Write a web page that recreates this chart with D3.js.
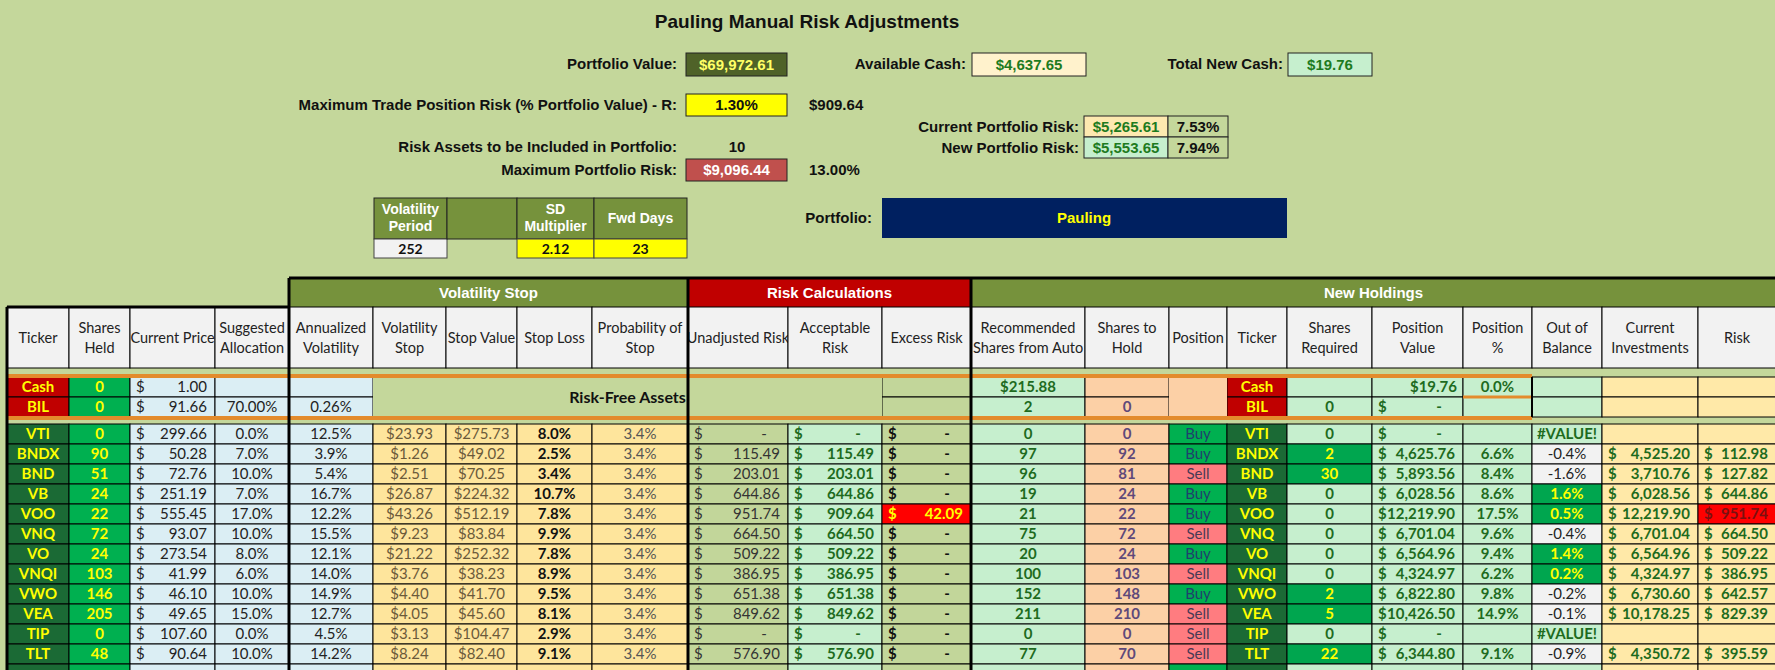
<!DOCTYPE html>
<html>
<head>
<meta charset="utf-8">
<script src="https://cdn.jsdelivr.net/npm/d3@7"></script>
<style>
  body { margin: 0; background: #c4d79b; }
  svg { display: block; }
</style>
</head>
<body>
<svg id="sheet" width="1775" height="670"></svg>
<script>
// ---- data ----
const tickers = ['VTI', 'BNDX', 'BND', 'VB', 'VOO', 'VNQ', 'VO', 'VNQI', 'VWO', 'VEA', 'TIP', 'TLT'];
const sharesHeld = [0, 90, 51, 24, 22, 72, 24, 103, 146, 205, 0, 48];
const prices = [299.66, 50.28, 72.76, 251.19, 555.45, 93.07, 273.54, 41.99, 46.10, 49.65, 107.60, 90.64];
const allocation = [0.0, 7.0, 10.0, 7.0, 17.0, 10.0, 8.0, 6.0, 10.0, 15.0, 0.0, 10.0];
const annVol = [12.5, 3.9, 5.4, 16.7, 12.2, 15.5, 12.1, 14.0, 14.9, 12.7, 4.5, 14.2];
const volStop = [23.93, 1.26, 2.51, 26.87, 43.26, 9.23, 21.22, 3.76, 4.40, 4.05, 3.13, 8.24];
const stopValue = [275.73, 49.02, 70.25, 224.32, 512.19, 83.84, 252.32, 38.23, 41.70, 45.60, 104.47, 82.40];
const stopLoss = [8.0, 2.5, 3.4, 10.7, 7.8, 9.9, 7.8, 8.9, 9.5, 8.1, 2.9, 9.1];
const probStop = [3.4, 3.4, 3.4, 3.4, 3.4, 3.4, 3.4, 3.4, 3.4, 3.4, 3.4, 3.4];
const unadjRisk = [0, 115.49, 203.01, 644.86, 951.74, 664.50, 509.22, 386.95, 651.38, 849.62, 0, 576.90];
const acceptRisk = [0, 115.49, 203.01, 644.86, 909.64, 664.50, 509.22, 386.95, 651.38, 849.62, 0, 576.90];
const excessRisk = [0, 0, 0, 0, 42.09, 0, 0, 0, 0, 0, 0, 0];
const recommended = [0, 97, 96, 19, 21, 75, 20, 100, 152, 211, 0, 77];
const sharesToHold = [0, 92, 81, 24, 22, 72, 24, 103, 148, 210, 0, 70];
const positions = ['Buy', 'Buy', 'Sell', 'Buy', 'Buy', 'Sell', 'Buy', 'Sell', 'Buy', 'Sell', 'Sell', 'Sell'];
const sharesRequired = [0, 2, 30, 0, 0, 0, 0, 0, 2, 5, 0, 22];
const positionValue = [0, 4625.76, 5893.56, 6028.56, 12219.90, 6701.04, 6564.96, 4324.97, 6822.80, 10426.50, 0, 6344.80];
const positionPct = [null, 6.6, 8.4, 8.6, 17.5, 9.6, 9.4, 6.2, 9.8, 14.9, null, 9.1];
const outOfBalance = [null, -0.4, -1.6, 1.6, 0.5, -0.4, 1.4, 0.2, -0.2, -0.1, null, -0.9];
const currentInv = [null, 4525.20, 3710.76, 6028.56, 12219.90, 6701.04, 6564.96, 4324.97, 6730.60, 10178.25, null, 4350.72];
const riskValues = [null, 112.98, 127.82, 644.86, 951.74, 664.50, 509.22, 386.95, 642.57, 829.39, null, 395.59];

const headers = ['Ticker', 'Shares|Held', 'Current Price', 'Suggested|Allocation', 'Annualized|Volatility',
  'Volatility|Stop', 'Stop Value', 'Stop Loss', 'Probability of|Stop', 'Unadjusted Risk', 'Acceptable|Risk',
  'Excess Risk', 'Recommended|Shares from Auto', 'Shares to|Hold', 'Position', 'Ticker', 'Shares|Required',
  'Position|Value', 'Position|%', 'Out of|Balance', 'Current|Investments', 'Risk'];
const groups = [
  { name: 'Volatility Stop', from: 4, to: 9, fill: '#76923c' },
  { name: 'Risk Calculations', from: 9, to: 12, fill: '#c00000' },
  { name: 'New Holdings', from: 12, to: 22, fill: '#76923c' }
];

// ---- layout ----
const edges = [7, 69, 130, 215, 289, 373, 446, 517, 592, 688, 788, 882, 971, 1085, 1169, 1227, 1287, 1372, 1463, 1532, 1602, 1698, 1776];
const X0 = i => edges[i], X1 = i => edges[i + 1];
const rowY = d3.scaleLinear().domain([0, 1]).range([424, 444]);
const RH = 20;

const C = {
  tick: '#1b6a35', red: '#c00000', held: '#00b050', blue: '#dbeef4', orange: '#fee59c', olive: '#c4d79b',
  lgreen: '#c6efce', peach: '#fcd0a6', lyellow: '#ffe9a8', grey: '#f2f2f2', green: '#00a64f',
  dgreen: '#1e6b1e', ytext: '#ffff00', line: '#e38b2c'
};
const TF = 'Lato, "Open Sans", sans-serif';
const AF = '"Liberation Sans", Arial, sans-serif';

const svg = d3.select('#sheet').attr('viewBox', '0 0 1775 670');
svg.append('rect').attr('width', 1775).attr('height', 670).attr('fill', C.olive);
const g = svg.append('g');

function text(x, y, s, o = {}) {
  return g.append('text').attr('x', x).attr('y', y).attr('dy', '0.35em')
    .attr('text-anchor', o.anchor || 'middle')
    .attr('font-family', o.font || TF).attr('font-size', o.size || 15)
    .attr('font-weight', o.bold ? 'bold' : 'normal')
    .attr('fill', o.color || '#222').text(s);
}
function box(x0, y0, x1, y1, fill, stroke = '#000', sw = 1) {
  g.append('rect').attr('x', x0).attr('y', y0).attr('width', x1 - x0).attr('height', y1 - y0)
    .attr('fill', fill).attr('stroke', stroke).attr('stroke-width', sw);
}
const f2 = d3.format(',.2f');
function acct(c, y0, v, o) {
  const cy = y0 + RH / 2;
  text(X0(c) + 6, cy, '$', Object.assign({}, o, { anchor: 'start' }));
  if (!v) text(X1(c) - 24, cy, '-', o);
  else text(X1(c) - 8, cy, f2(v), Object.assign({}, o, { anchor: 'end' }));
}
function cell(c, y0, fill, s, o = {}) {
  box(X0(c), y0, X1(c), y0 + RH, fill);
  if (s !== null && s !== undefined && s !== '') text((X0(c) + X1(c)) / 2, y0 + RH / 2, s, o);
}

// ---- top block ----
text(807, 21, 'Pauling Manual Risk Adjustments', { font: AF, size: 19, bold: true, color: '#111' });
const lab = (x, y, s) => text(x, y, s, { font: AF, size: 15, bold: true, anchor: 'end', color: '#111' });
const val = (x0, y0, x1, y1, fill, s, col) => {
  box(x0, y0, x1, y1, fill, '#222');
  text((x0 + x1) / 2, (y0 + y1) / 2, s, { font: AF, size: 15, bold: true, color: col });
};
lab(677, 64, 'Portfolio Value:'); val(686, 53, 787, 76, '#4f6228', '$69,972.61', '#ffff66');
lab(966, 64, 'Available Cash:'); val(972, 53, 1086, 76, '#fff2cc', '$4,637.65', '#1e7b1e');
lab(1283, 64, 'Total New Cash:'); val(1288, 53, 1372, 76, '#c6efce', '$19.76', '#1e7b1e');
lab(677, 105, 'Maximum Trade Position Risk (% Portfolio Value) - R:'); val(686, 94, 787, 116, '#ffff00', '1.30%', '#111');
text(809, 105, '$909.64', { font: AF, size: 15, bold: true, anchor: 'start', color: '#111' });
lab(1079, 127, 'Current Portfolio Risk:'); val(1084, 116, 1168, 137, '#fde9b0', '$5,265.61', '#1e7b1e'); val(1168, 116, 1228, 137, C.olive, '7.53%', '#111');
lab(1079, 148, 'New Portfolio Risk:'); val(1084, 137, 1168, 158, '#c6efce', '$5,553.65', '#1e7b1e'); val(1168, 137, 1228, 158, C.olive, '7.94%', '#111');
lab(677, 147, 'Risk Assets to be Included in Portfolio:');
text(737, 147, '10', { font: AF, size: 15, bold: true, color: '#111' });
lab(677, 170, 'Maximum Portfolio Risk:'); val(686, 159, 787, 181, '#c0504d', '$9,096.44', '#fff');
text(809, 170, '13.00%', { font: AF, size: 15, bold: true, anchor: 'start', color: '#111' });
lab(872, 218, 'Portfolio:');
box(882, 198, 1287, 238, '#002060', 'none');
text(1084, 218, 'Pauling', { font: AF, size: 15, bold: true, color: '#ffff00' });

const smallEdges = [374, 447, 517, 594, 687];
const smallHead = ['Volatility|Period', '', 'SD|Multiplier', 'Fwd Days'];
const smallVals = ['252', '', '2.12', '23'];
const smallFill = ['#f2f2f2', C.olive, '#ffff00', '#ffff00'];
smallHead.forEach((h, i) => {
  const x0 = smallEdges[i], x1 = smallEdges[i + 1], cx = (x0 + x1) / 2;
  box(x0, 198, x1, 239, '#76923c', '#222');
  h.split('|').forEach((p, k, a) => text(cx, 218 + (k - (a.length - 1) / 2) * 17, p, { font: AF, size: 14, bold: true, color: '#fff' }));
  if (smallVals[i] !== '' || i === 0) box(x0, 239, x1, 258, smallFill[i], '#444');
  text(cx, 249, smallVals[i], { size: 14, bold: true, color: '#111' });
});

// ---- group header and column headers ----
groups.forEach(gr => {
  box(X0(gr.from), 278, edges[gr.to], 307, gr.fill, 'none');
  text((X0(gr.from) + edges[gr.to]) / 2, 293, gr.name, { font: AF, size: 15, bold: true, color: '#fff' });
});
headers.forEach((h, i) => {
  box(X0(i), 307, X1(i), 368, '#f2f2f2');
  const parts = h.split('|');
  parts.forEach((p, k) => text((X0(i) + X1(i)) / 2, 338 + (k - (parts.length - 1) / 2) * 20, p, { size: 14.5, color: '#222' }));
});

// ---- risk free rows ----
const rfY = [377, 397];
const rfTick = ['Cash', 'BIL'];
const rfPrice = [1.00, 91.66];
rfY.forEach((y, r) => {
  cell(0, y, C.red, rfTick[r], { bold: true, color: C.ytext });
  cell(1, y, C.held, '0', { bold: true, color: C.ytext });
  cell(2, y, C.blue); acct(2, y, rfPrice[r], { color: '#222' });
  cell(3, y, C.blue, r ? '70.00%' : '');
  cell(4, y, C.blue, r ? '0.26%' : '');
  cell(11, y, '#c2d69a');
  cell(12, y, C.lgreen, r ? '2' : '$215.88', { bold: true, color: C.dgreen });
  cell(13, y, C.peach, r ? '0' : '', { bold: true, color: '#5f497a' });
  cell(15, y, C.red, rfTick[r], { bold: true, color: C.ytext });
  cell(16, y, C.lgreen, r ? '0' : '', { bold: true, color: C.dgreen });
  cell(17, y, C.lgreen);
  if (r) acct(17, y, 0, { bold: true, color: C.dgreen });
  else text(X1(17) - 6, y + RH / 2, '$19.76', { anchor: 'end', bold: true, color: C.dgreen });
  cell(18, y, C.lgreen, r ? '' : '0.0%', { bold: true, color: C.dgreen });
  cell(19, y, C.lgreen); cell(20, y, C.lyellow); cell(21, y, C.lyellow);
});
box(X0(5), 377, X1(10), 417, C.olive, 'none');
text((X0(5) + X1(10)) / 2, 397, 'Risk-Free Assets', { size: 16, bold: true, color: '#111' });
box(X0(14), 377, X1(14), 417, C.peach, 'none');
g.append('line').attr('x1', X0(18)).attr('x2', X1(18)).attr('y1', 397).attr('y2', 397).attr('stroke', C.line).attr('stroke-width', 3);
[376, 418].forEach(y => g.append('line').attr('x1', 7).attr('x2', X1(18)).attr('y1', y).attr('y2', y)
  .attr('stroke', C.line).attr('stroke-width', 4));

// ---- main rows ----
const pct1 = v => v.toFixed(1) + '%';
tickers.forEach((t, i) => {
  const y = rowY(i);
  cell(0, y, C.tick, t, { bold: true, color: C.ytext });
  cell(1, y, C.held, sharesHeld[i], { bold: true, color: C.ytext });
  cell(2, y, C.blue); acct(2, y, prices[i], { color: '#222' });
  cell(3, y, C.blue, pct1(allocation[i]));
  cell(4, y, C.blue, pct1(annVol[i]));
  cell(5, y, C.orange, '$' + f2(volStop[i]), { color: '#6b5a3a' });
  cell(6, y, C.orange, '$' + f2(stopValue[i]), { color: '#6b5a3a' });
  cell(7, y, C.orange, pct1(stopLoss[i]), { bold: true, color: '#111' });
  cell(8, y, C.orange, pct1(probStop[i]), { color: '#555' });
  cell(9, y, '#c2d69a'); acct(9, y, unadjRisk[i], { color: '#333' });
  cell(10, y, C.lgreen); acct(10, y, acceptRisk[i], { bold: true, color: C.dgreen });
  const ex = excessRisk[i] > 0;
  cell(11, y, ex ? '#ff0000' : '#c2d69a'); acct(11, y, excessRisk[i], { bold: true, color: ex ? C.ytext : '#111' });
  cell(12, y, C.lgreen, recommended[i], { bold: true, color: C.dgreen });
  cell(13, y, C.peach, sharesToHold[i], { bold: true, color: '#5f497a' });
  cell(14, y, positions[i] === 'Buy' ? '#00b050' : '#ff7c80', positions[i], { color: positions[i] === 'Buy' ? '#1f3f6d' : '#4a3a55' });
  cell(15, y, C.tick, t, { bold: true, color: C.ytext });
  const sr = sharesRequired[i] > 0;
  cell(16, y, sr ? C.green : C.lgreen, sharesRequired[i], { bold: true, color: sr ? C.ytext : C.dgreen });
  cell(17, y, C.lgreen); acct(17, y, positionValue[i], { bold: true, color: C.dgreen });
  cell(18, y, C.lgreen, positionPct[i] === null ? '' : pct1(positionPct[i]), { bold: true, color: C.dgreen });
  const ob = outOfBalance[i];
  if (ob === null) cell(19, y, C.lgreen, '#VALUE!', { bold: true, color: C.dgreen });
  else if (ob > 0) cell(19, y, C.green, pct1(ob), { bold: true, color: C.ytext });
  else cell(19, y, C.grey, pct1(ob), { color: '#222' });
  cell(20, y, C.lyellow);
  if (currentInv[i] !== null) acct(20, y, currentInv[i], { bold: true, color: C.dgreen });
  const hot = riskValues[i] !== null && riskValues[i] > acceptRisk[i];
  cell(21, y, hot ? '#ff0000' : C.lyellow);
  if (riskValues[i] !== null) acct(21, y, riskValues[i], { bold: true, color: hot ? '#7a1010' : C.dgreen });
});
// start of next row, cut off at the bottom
const yLast = rowY(tickers.length);
const tailFill = [C.tick, C.held, C.blue, C.blue, C.blue, C.orange, C.orange, C.orange, C.orange, '#c2d69a', C.lgreen, '#c2d69a',
  C.lgreen, C.peach, '#00b050', C.tick, C.lgreen, C.lgreen, C.lgreen, C.lgreen, C.lyellow, C.lyellow];
tailFill.forEach((f, c) => box(X0(c), yLast, X1(c), yLast + RH, f));

// ---- heavy borders ----
const thick = (x1, y1, x2, y2, w = 3) => g.append('line').attr('x1', x1).attr('y1', y1).attr('x2', x2).attr('y2', y2)
  .attr('stroke', '#000').attr('stroke-width', w);
thick(X0(4), 278, 1776, 278);
thick(7, 307, X0(4), 307);
thick(7, 307, 7, 670);
[X0(4), X0(9), X0(12)].forEach(x => thick(x, 278, x, 670));
thick(X0(19), 377, X0(19), 417, 2);
</script>
</body>
</html>
